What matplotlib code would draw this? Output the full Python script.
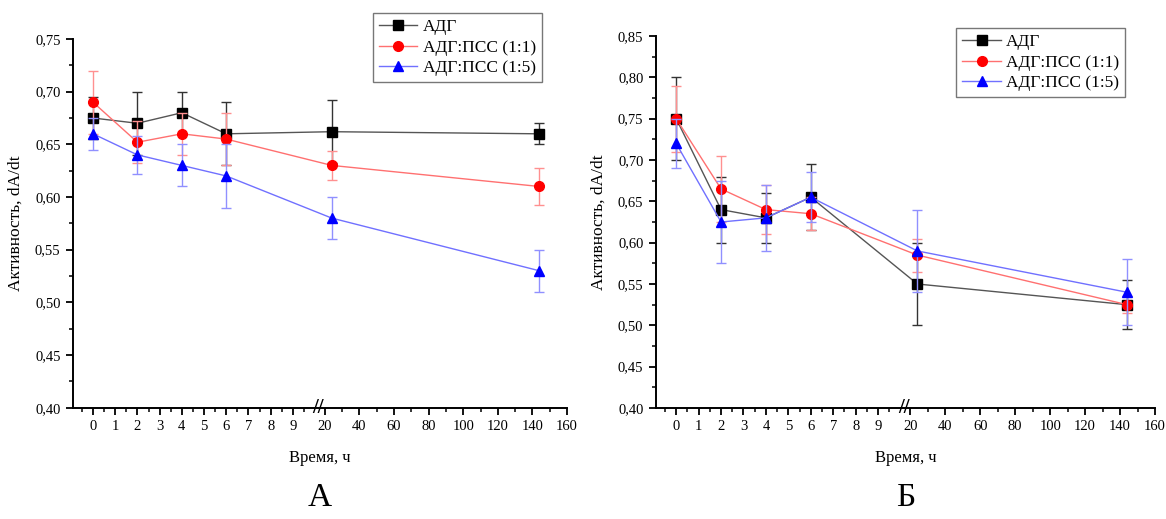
import numpy as np
import matplotlib.pyplot as plt
from matplotlib.ticker import FixedLocator, FuncFormatter
import matplotlib.transforms as mtransforms

plt.rcParams['font.family'] = ['Liberation Serif', 'DejaVu Serif']

# time points, h
t = [0, 2, 4, 6, 24, 144]
names = ['АДГ', 'АДГ:ПСС (1:1)', 'АДГ:ПСС (1:5)']

# panel A
a_adg = [0.675, 0.670, 0.680, 0.660, 0.662, 0.660]
a_adg_err = [0.020, 0.030, 0.020, 0.030, 0.030, 0.010]
a_11 = [0.690, 0.652, 0.660, 0.655, 0.630, 0.610]
a_11_err = [0.030, 0.020, 0.020, 0.025, 0.014, 0.018]
a_15 = [0.660, 0.640, 0.630, 0.620, 0.580, 0.530]
a_15_err = [0.015, 0.018, 0.020, 0.030, 0.020, 0.020]

# panel B
b_adg = [0.750, 0.640, 0.630, 0.655, 0.550, 0.525]
b_adg_err = [0.050, 0.040, 0.030, 0.040, 0.050, 0.030]
b_11 = [0.750, 0.665, 0.640, 0.635, 0.585, 0.525]
b_11_err = [0.040, 0.040, 0.030, 0.020, 0.020, 0.010]
b_15 = [0.720, 0.625, 0.630, 0.655, 0.590, 0.540]
b_15_err = [0.030, 0.050, 0.040, 0.030, 0.050, 0.040]

left_ticks = list(range(0, 10))
right_ticks = list(range(20, 161, 20))

# broken axis: 0..10 linear, small gap, 20..160 compressed
K = 0.0779
G = 0.044


def fwd(x):
    x = np.asarray(x, dtype=float)
    return np.where(x <= 10, x,
                    np.where(x < 20, 10 + (x - 10) * G, 10 + 10 * G + (x - 20) * K))


def inv(y):
    y = np.asarray(y, dtype=float)
    return np.where(y <= 10, y,
                    np.where(y < 10 + 10 * G, 10 + (y - 10) / G, 20 + (y - 10 - 10 * G) / K))


def comma(v, pos):
    return f'{v:.2f}'.replace('.', ',')


def panel(ax, series, ylim, letter, leg_anchor):
    colors = ['black', 'red', 'blue']
    lcolors = ['#555555', '#ff7070', '#7070ff']
    ecolors = ['#333333', '#ff9090', '#9090ff']
    markers = ['s', 'o', '^']
    for (y, e), name, c, lc, ec, m in zip(series, names, colors, lcolors, ecolors, markers):
        ax.errorbar(t, y, yerr=e, fmt='none', ecolor=ec, elinewidth=1, capsize=3.5, capthick=1)
        ax.plot(t, y, color=lc, lw=1, marker=m, markersize=7, markerfacecolor=c,
                markeredgecolor=c, label=name)
    ax.set_xscale('function', functions=(fwd, inv))
    ax.set_xlim(-0.9, 160)
    ax.set_ylim(*ylim)
    ax.xaxis.set_major_locator(FixedLocator(left_ticks + right_ticks))
    ax.xaxis.set_minor_locator(FixedLocator([v + 0.5 for v in range(-1, 10)] + list(range(30, 161, 20))))
    ax.xaxis.set_major_formatter(FuncFormatter(lambda v, p: f'{v:g}'))
    ax.yaxis.set_major_locator(FixedLocator(np.arange(ylim[0], ylim[1] + 0.001, 0.05)))
    ax.yaxis.set_minor_locator(FixedLocator(np.arange(ylim[0], ylim[1] + 0.001, 0.025)))
    ax.yaxis.set_major_formatter(FuncFormatter(comma))
    ax.spines['top'].set_visible(False)
    ax.spines['right'].set_visible(False)
    for s in ['left', 'bottom']:
        ax.spines[s].set_linewidth(1.4)
    ax.tick_params(which='major', direction='out', length=5, width=1.3, labelsize=10.5, pad=4)
    ax.tick_params(which='minor', direction='out', length=3, width=1.1)
    ax.set_xlabel('Время, ч', fontsize=12, labelpad=12)
    ax.set_ylabel('Активность, dA/dt', fontsize=12.5, labelpad=8)
    trans = mtransforms.blended_transform_factory(ax.transData, ax.transAxes)
    ax.text(13, 0, '//', transform=trans, ha='center', va='center', fontsize=15,
            fontweight='bold', clip_on=False)
    leg = ax.legend(loc='upper right', bbox_to_anchor=leg_anchor, fontsize=12.5, frameon=True,
                    fancybox=False, edgecolor='#555555', handlelength=2.2, borderpad=0.35,
                    labelspacing=0.25, handletextpad=0.3, borderaxespad=0)
    leg.get_frame().set_linewidth(1.0)
    tl = mtransforms.blended_transform_factory(ax.transAxes, ax.figure.transFigure)
    ax.text(0.5, 0.025, letter, transform=tl, ha='center', va='baseline', fontsize=24)


fig = plt.figure(figsize=(11.66, 5.19), dpi=100)
axA = fig.add_axes([73 / 1166, 1 - 407.7 / 519, 494 / 1166, 368.7 / 519])
axB = fig.add_axes([656 / 1166, 1 - 408 / 519, 499 / 1166, 372 / 519])

panel(axA, [(a_adg, a_adg_err), (a_11, a_11_err), (a_15, a_15_err)], (0.40, 0.75), 'А',
      (0.949, 1.0705))
panel(axB, [(b_adg, b_adg_err), (b_11, b_11_err), (b_15, b_15_err)], (0.40, 0.85), 'Б',
      (0.94, 1.0215))

fig.savefig('out.png', dpi=100)
